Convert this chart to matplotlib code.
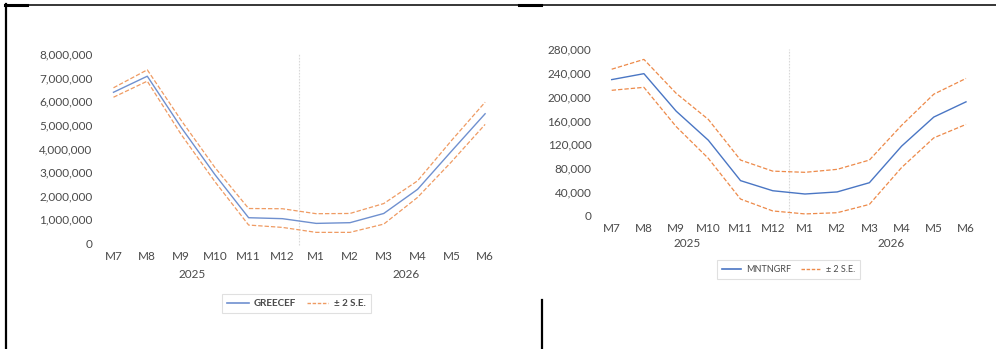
"""Greece and Montenegro monthly forecasts with +/- 2 S.E. bands."""

import matplotlib.pyplot as plt
import numpy as np
from matplotlib.lines import Line2D
from matplotlib.ticker import FuncFormatter, MultipleLocator

months = ["M7", "M8", "M9", "M10", "M11", "M12", "M1", "M2", "M3", "M4", "M5", "M6"]
years = ["2025", "2026"]
year_pos = [2.34, 8.67]

greece = [6380000, 7060000, 4900000, 2900000, 1070000, 1030000,
          830000, 860000, 1250000, 2270000, 3880000, 5470000]
greece_hi = [6570000, 7330000, 5200000, 3200000, 1460000, 1450000,
             1240000, 1250000, 1670000, 2630000, 4330000, 5960000]
greece_lo = [6170000, 6850000, 4600000, 2600000, 760000, 660000,
             450000, 450000, 800000, 1930000, 3430000, 5020000]

montenegro = [229000, 239000, 176000, 127000, 59000, 42000,
              36500, 40000, 55500, 117000, 166000, 191600]
montenegro_hi = [246500, 263000, 206000, 162000, 93600, 75000,
                 73000, 78000, 93600, 152000, 204500, 231000]
montenegro_lo = [211000, 216000, 150000, 96500, 28000, 8000,
                 3000, 5000, 19000, 81000, 131000, 153600]

W, H = 996, 349
TICK_GREY = "#4A4A4A"
plt.rcParams["font.family"] = ["Lato", "DejaVu Sans"]


def px_rect(left, right, top, bottom):
    return [left / W, 1 - bottom / H, (right - left) / W, (bottom - top) / H]


def draw_panel(ax, main, hi, lo, ymax, ystep, name, blue, orange,
               month_pad, year_drop, legend_xy, legend_font, legend_bold):
    x = np.arange(len(months))
    ax.plot(x, hi, color=orange, lw=0.9, ls=(0, (3.5, 1.6)))
    ax.plot(x, lo, color=orange, lw=0.9, ls=(0, (3.5, 1.6)))
    ax.plot(x, main, color=blue, lw=1.0)
    ax.axvline(5.5, ymin=-0.012, ymax=1, color="#D9D9D9", lw=0.8,
               ls=(0, (1.5, 1.2)), clip_on=False, zorder=0)

    ax.set_xlim(-0.5, len(months) - 0.5)
    ax.set_ylim(0, ymax)
    ax.yaxis.set_major_locator(MultipleLocator(ystep))
    ax.yaxis.set_major_formatter(FuncFormatter(lambda v, _: f"{v:,.0f}"))
    ax.set_xticks(x, months)
    ax.tick_params(length=0, labelsize=8.5, colors=TICK_GREY)
    ax.tick_params(axis="x", pad=month_pad)
    ax.tick_params(axis="y", pad=3)
    for s in ax.spines.values():
        s.set_visible(False)

    for pos, label in zip(year_pos, years):
        ax.annotate(label, (pos, 0), xycoords=("data", "axes fraction"),
                    xytext=(0, -year_drop), textcoords="offset pixels",
                    ha="center", va="center", fontsize=8.5, color=TICK_GREY)

    handles = [Line2D([], [], color=blue, lw=1.2),
               Line2D([], [], color=orange, lw=1.0, ls=(0, (2.5, 1.2)))]
    leg = ax.figure.legend(
        handles, [name, "\u00b1 2 S.E."], loc="center",
        bbox_to_anchor=(legend_xy[0] / W, 1 - legend_xy[1] / H),
        ncol=2, frameon=True, fancybox=False,
        edgecolor="#D9D9D9", handlelength=2.2, handletextpad=0.55,
        columnspacing=1.1, borderpad=0.55,
        prop={"weight": "bold" if legend_bold else "normal",
              "size": legend_font})
    leg.get_frame().set_linewidth(0.8)
    for t in leg.get_texts():
        t.set_color(TICK_GREY)


fig = plt.figure(figsize=(W / 100, H / 100), dpi=100)

ax1 = fig.add_axes(px_rect(96.6, 502.0, 54.0, 243.0))
draw_panel(ax1, greece, greece_hi, greece_lo, 8000000, 1000000, "GREECEF",
           "#6F90CF", "#EF9B63", month_pad=6, year_drop=31,
           legend_xy=(296.5, 303.5), legend_font=7, legend_bold=True)

ax2 = fig.add_axes(px_rect(595.6, 982.1, 49.3, 215.7))
draw_panel(ax2, montenegro, montenegro_hi, montenegro_lo, 280000, 40000,
           "MNTNGRF", "#4A76C4", "#ED8A4A", month_pad=5, year_drop=27.6,
           legend_xy=(788.5, 269.2), legend_font=6.5, legend_bold=False)

# page frame fragments around the two charts
frame = [((5, 996), (4.5, 4.5), 1.1),
         ((5, 27), (4.5, 4.5), 2.2),
         ((519, 541), (4.5, 4.5), 2.2),
         ((6, 6), (4, 349), 1.6),
         ((541.5, 541.5), (300, 349), 1.6)]
for xs, ys, lw in frame:
    fig.add_artist(Line2D([v / W for v in xs], [1 - v / H for v in ys],
                          transform=fig.transFigure, color="black", lw=lw))

fig.savefig("out.png", dpi=100)
